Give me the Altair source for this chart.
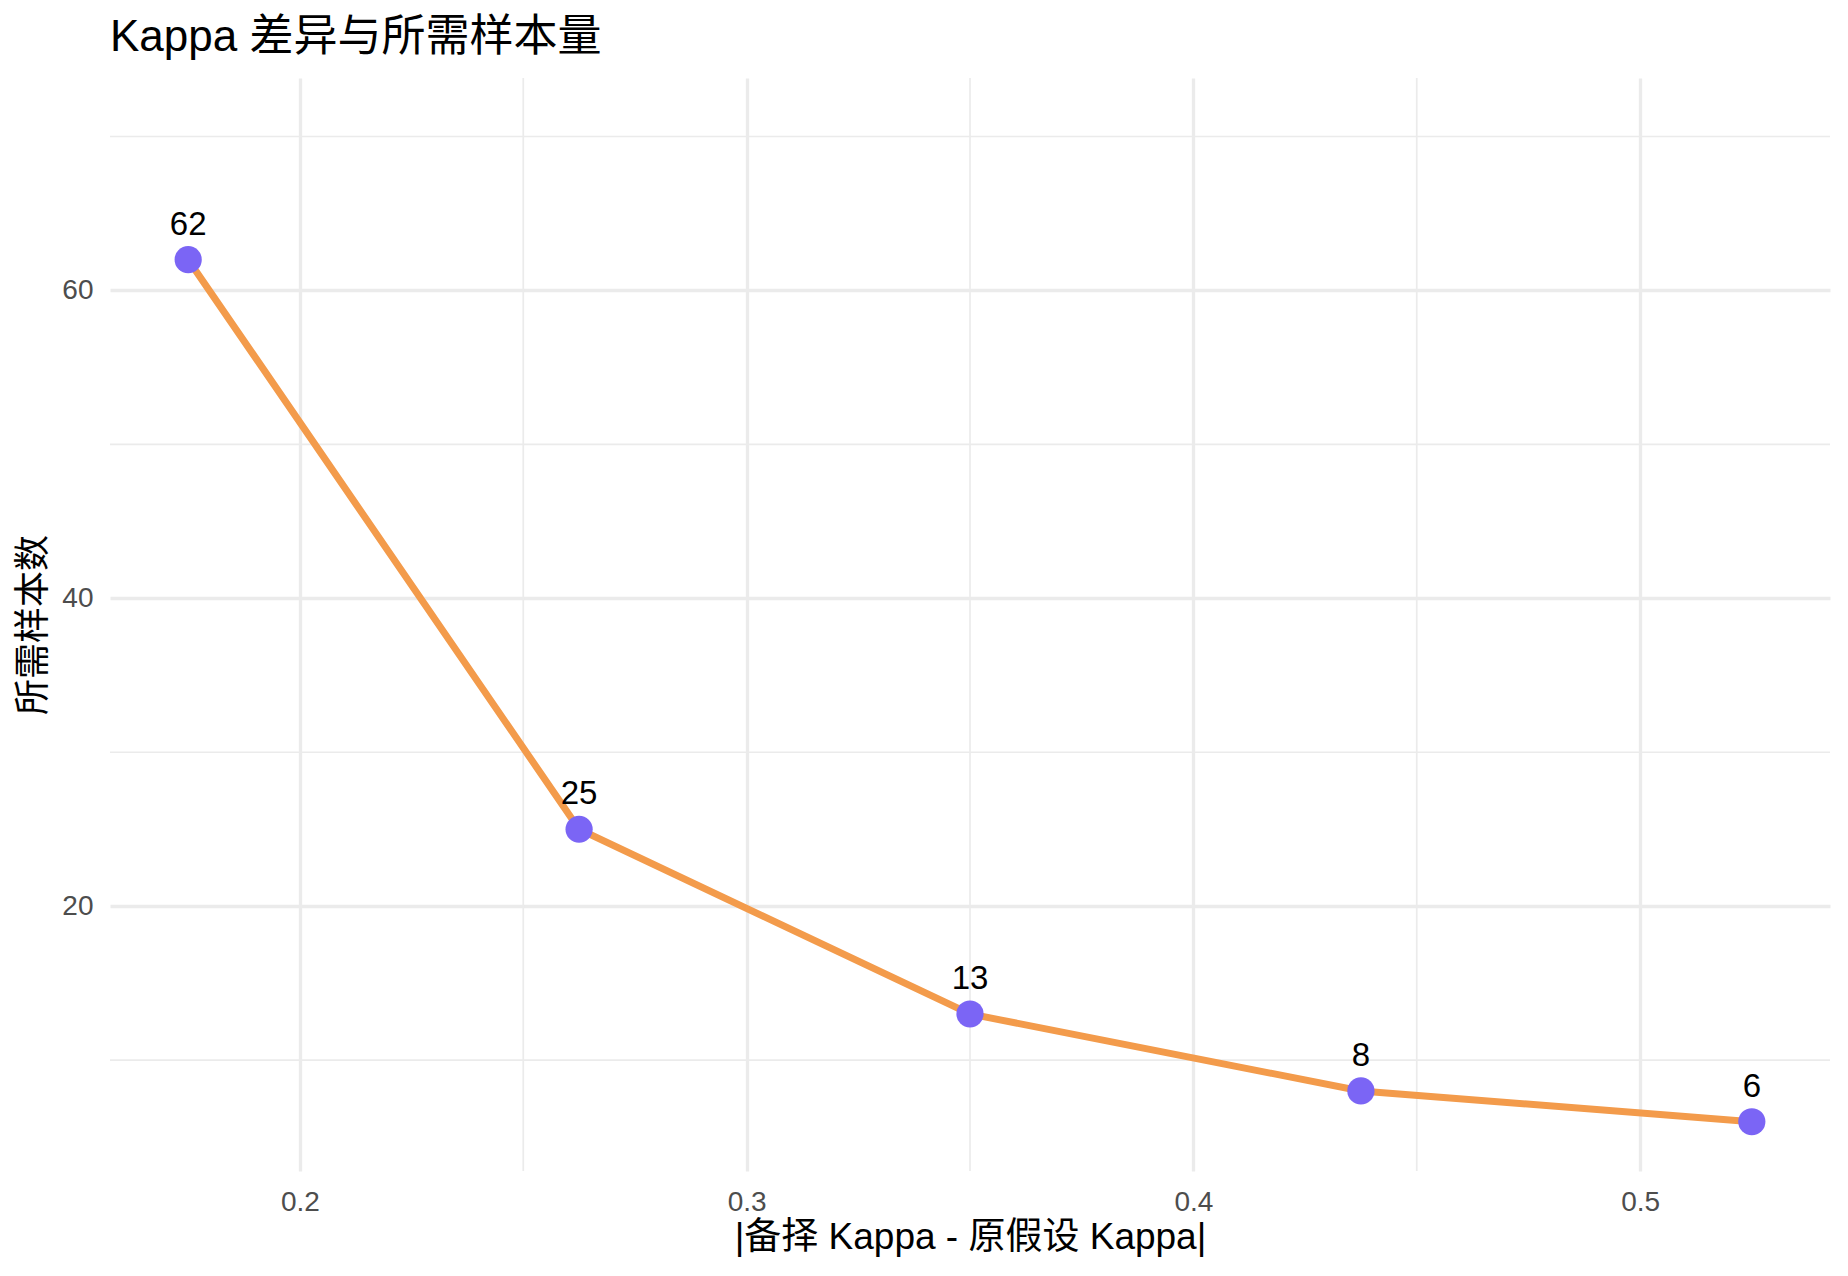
import altair as alt
import pandas as pd

# data
kappa_diff = [0.175, 0.2625, 0.35, 0.4375, 0.525]
sample_n = [62, 25, 13, 8, 6]
x_major = [0.2, 0.3, 0.4, 0.5]
x_minor = [0.25, 0.35, 0.45]
y_major = [20, 40, 60]
y_minor = [10, 30, 50, 70]

FONT = "Liberation Sans, Noto Sans CJK SC, sans-serif"
GRID = "#EBEBEB"

df = pd.DataFrame({"diff": kappa_diff, "n": sample_n})
dfx = pd.DataFrame({"diff": x_minor})
dfy = pd.DataFrame({"n": y_minor})

xs = alt.Scale(domain=[0.1575, 0.5425], nice=False, zero=False)
ys = alt.Scale(domain=[2.8, 73.8], nice=False, zero=False)

W, H = 1720, 1093

x_axis = alt.Axis(
    values=x_major, format=".1f", title="|备择 Kappa - 原假设 Kappa|",
    grid=True, gridColor=GRID, gridWidth=3.3, domain=False, ticks=False, tickSize=0,
    labelFont=FONT, labelFontSize=28, labelColor="#4D4D4D", labelPadding=17,
    titleFont=FONT, titleFontSize=37, titleFontWeight="normal", titleColor="black",
    titleBaseline="alphabetic", titleY=77, titleX=W / 2,
)
y_axis = alt.Axis(
    values=y_major, format="d", title="所需样本数",
    grid=True, gridColor=GRID, gridWidth=3.3, domain=False, ticks=False, tickSize=0,
    labelFont=FONT, labelFontSize=28, labelColor="#4D4D4D", labelPadding=17,
    titleFont=FONT, titleFontSize=36, titleFontWeight="normal", titleColor="black",
    titleAngle=270, titleBaseline="alphabetic", titleX=-66, titleY=H / 2,
)

minor_x = alt.Chart(dfx).mark_rule(color=GRID, strokeWidth=1.7).encode(
    x=alt.X("diff:Q", scale=xs, axis=x_axis)
)
minor_y = alt.Chart(dfy).mark_rule(color=GRID, strokeWidth=1.7).encode(
    y=alt.Y("n:Q", scale=ys, axis=y_axis)
)

base = alt.Chart(df).encode(
    x=alt.X("diff:Q", scale=xs, axis=x_axis),
    y=alt.Y("n:Q", scale=ys, axis=y_axis),
)

line = base.mark_line(color="#F39B4B", strokeWidth=7)
points = base.mark_point(filled=True, color="#7B65F5", size=740, opacity=1, shape="circle")
labels = base.mark_text(
    font=FONT, fontSize=33, color="black", dy=-25, baseline="alphabetic", align="center"
).encode(text=alt.Text("n:Q", format="d"))

chart = alt.layer(minor_x, minor_y, line, points, labels).properties(
    width=W,
    height=H,
    background="white",
    title=alt.TitleParams(
        "Kappa 差异与所需样本量", font=FONT, fontSize=44, fontWeight="normal",
        color="black", anchor="start", frame="group", offset=17,
    ),
    autosize=alt.AutoSizeParams(type="none"),
    padding={"left": 102, "top": 70, "right": 10, "bottom": 90},
).configure_view(strokeWidth=0)

chart.save("out.html", embed_options={"renderer": "svg", "actions": False})
